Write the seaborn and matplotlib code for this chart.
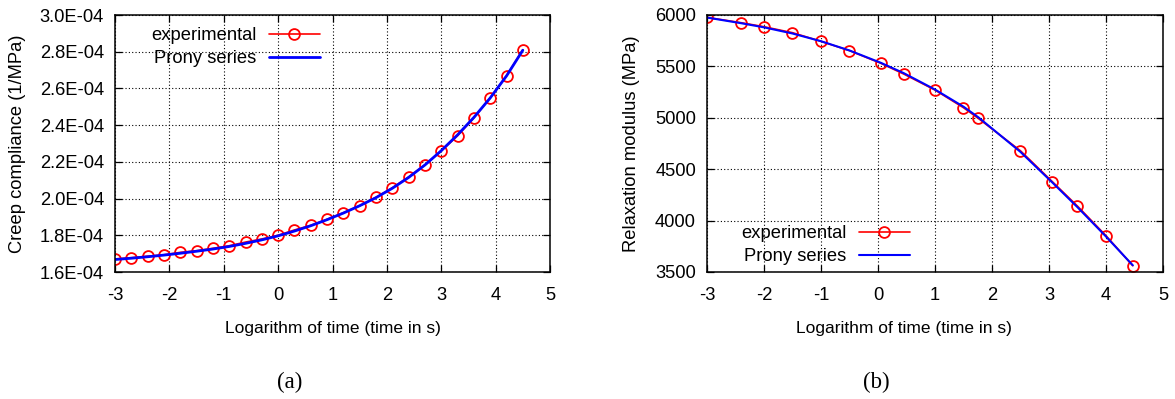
import numpy as np
import pandas as pd
import matplotlib
matplotlib.use("Agg")
import matplotlib.pyplot as plt
from matplotlib.ticker import FuncFormatter
import seaborn as sns

# ---------------- data ----------------
# (a) creep compliance
creep_logt = [-3.0, -2.7, -2.4, -2.1, -1.8, -1.5, -1.2, -0.9, -0.6, -0.3, 0.0, 0.3, 0.6,
              0.9, 1.2, 1.5, 1.8, 2.1, 2.4, 2.7, 3.0, 3.3, 3.6, 3.9, 4.2, 4.5]
creep_exp = [1.671, 1.678, 1.686, 1.694, 1.707, 1.716, 1.729, 1.743, 1.763, 1.780, 1.800,
             1.829, 1.854, 1.887, 1.923, 1.961, 2.007, 2.059, 2.118, 2.183, 2.259, 2.342,
             2.439, 2.548, 2.669, 2.811]
creep_prony = [1.668, 1.675, 1.683, 1.692, 1.702, 1.713, 1.725, 1.739, 1.756, 1.775, 1.797,
               1.823, 1.852, 1.885, 1.921, 1.961, 2.005, 2.056, 2.115, 2.183, 2.261, 2.347,
               2.442, 2.548, 2.668, 2.808]
creep_scale = 1e-4

# (b) relaxation modulus
relax_logt = [-3.0, -2.4, -2.0, -1.5, -1.0, -0.5, 0.05, 0.45, 1.0, 1.5, 1.76, 2.5, 3.06,
              3.5, 4.0, 4.47]
relax_exp = [5977, 5925, 5886, 5828, 5744, 5653, 5530, 5426, 5270, 5098, 4994, 4679, 4378,
             4141, 3853, 3561]
relax_prony = [5975, 5920, 5880, 5820, 5745, 5655, 5535, 5435, 5275, 5108, 5005, 4668, 4370,
               4130, 3845, 3565]

xticks = [-3, -2, -1, 0, 1, 2, 3, 4, 5]
creep_yticks = [1.6e-4, 1.8e-4, 2.0e-4, 2.2e-4, 2.4e-4, 2.6e-4, 2.8e-4, 3.0e-4]
relax_yticks = [3500, 4000, 4500, 5000, 5500, 6000]

xlabel = "Logarithm of time (time in s)"
ylabel_a = "Creep compliance (1/MPa)"
ylabel_b = "Relaxation modulus (MPa)"
legend_labels = ["experimental", "Prony series"]
captions = ["(a)", "(b)"]

# ---------------- style ----------------
sns.set_theme(style="white")
plt.rcParams["font.family"] = ["Liberation Sans", "DejaVu Sans"]
plt.rcParams["text.color"] = "black"
plt.rcParams["axes.labelcolor"] = "black"
plt.rcParams["legend.labelcolor"] = "black"

W, H = 1175, 399
FS = 13.2
XFS = 12.5

fig = plt.figure(figsize=(W / 100, H / 100), dpi=100)


def px_axes(l, t, r, b):
    return fig.add_axes([l / W, 1 - b / H, (r - l) / W, (b - t) / H])


ax_a = px_axes(115, 15, 550, 272)
ax_b = px_axes(707, 15, 1163, 272)


def style_axes(ax, yticks, ylim, fmt=None):
    ax.set_xlim(-3, 5)
    ax.set_ylim(*ylim)
    ax.set_xticks(xticks)
    ax.set_yticks(yticks)
    ax.xaxis.set_major_formatter(FuncFormatter(lambda v, p: f"{int(round(v))}"))
    if fmt is not None:
        ax.yaxis.set_major_formatter(FuncFormatter(fmt))
    ax.grid(True, color="black", linestyle=(0, (1, 2)), linewidth=0.8)
    ax.tick_params(axis="both", direction="in", length=5, width=0.9, colors="black",
                   labelsize=FS, top=True, right=True, bottom=True, left=True,
                   labeltop=False, labelright=False)
    ax.tick_params(axis="x", pad=10.5)
    ax.tick_params(axis="y", pad=8)
    for s in ax.spines.values():
        s.set_color("black")
        s.set_linewidth(1.1)
        s.set_visible(True)


def legend_at(ax, right_px, top_px):
    ax.legend(loc="upper right", bbox_to_anchor=(right_px / W, 1 - top_px / H),
              bbox_transform=fig.transFigure, frameon=False, markerfirst=False,
              fontsize=FS, handlelength=2.8, labelspacing=0.35, handletextpad=0.65,
              borderpad=0, borderaxespad=0, labelcolor="black")


# (a)
df_a = pd.DataFrame({"x": creep_logt,
                     "exp": np.array(creep_exp) * creep_scale,
                     "prony": np.array(creep_prony) * creep_scale})
sns.lineplot(data=df_a, x="x", y="exp", ax=ax_a, color="red", marker="o",
             markerfacecolor="none", markeredgecolor="red", markersize=7.8,
             markeredgewidth=1.3, linewidth=1.2, label=legend_labels[0])
sns.lineplot(data=df_a, x="x", y="prony", ax=ax_a, color="blue", linewidth=2.0,
             label=legend_labels[1])
style_axes(ax_a, creep_yticks, (1.6e-4, 3.0e-4), fmt=lambda v, p: f"{v:.1E}")
ax_a.set_ylabel(ylabel_a, fontsize=FS, color="black")
ax_a.set_xlabel(xlabel, fontsize=XFS, color="black")
ax_a.yaxis.set_label_coords((18 - 115) / 435, 0.5)
ax_a.yaxis.label.set_va("center")
ax_a.xaxis.set_label_coords(0.5, (272 - 328) / 257)
ax_a.xaxis.label.set_va("center")
legend_at(ax_a, 320, 27)

# (b)
df_b = pd.DataFrame({"x": relax_logt, "exp": relax_exp, "prony": relax_prony})
sns.lineplot(data=df_b, x="x", y="exp", ax=ax_b, color="red", marker="o",
             markerfacecolor="none", markeredgecolor="red", markersize=7.8,
             markeredgewidth=1.3, linewidth=1.2, label=legend_labels[0])
sns.lineplot(data=df_b, x="x", y="prony", ax=ax_b, color="blue", linewidth=1.5,
             label=legend_labels[1])
style_axes(ax_b, relax_yticks, (3500, 6000))
ax_b.set_ylabel(ylabel_b, fontsize=FS, color="black")
ax_b.set_xlabel(xlabel, fontsize=XFS, color="black")
ax_b.yaxis.set_label_coords((632 - 707) / 456, 0.5)
ax_b.yaxis.label.set_va("center")
ax_b.xaxis.set_label_coords((903.5 - 707) / 456, (272 - 328) / 257)
ax_b.xaxis.label.set_va("center")
legend_at(ax_b, 910, 225)

# captions
for cx, cap in zip([290, 876], captions):
    fig.text(cx / W, 1 - 382 / H, cap, ha="center", va="center",
             fontsize=16.5, family=["Liberation Serif", "DejaVu Serif"])

fig.savefig("out.png", dpi=100, facecolor="white")
